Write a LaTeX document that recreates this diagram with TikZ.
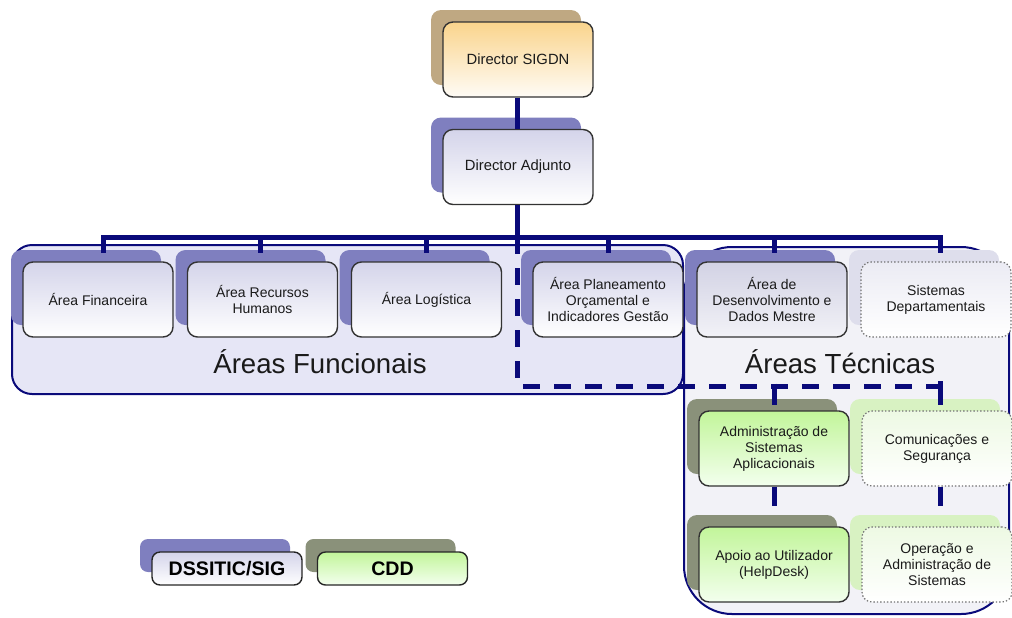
\documentclass[tikz,border=0pt]{standalone}
\usepackage{fontspec}
\setmainfont{Liberation Sans}
\usetikzlibrary{shadows}
\definecolor{navy}{HTML}{0A0A7A}
\definecolor{txt}{HTML}{1A1A1A}
\definecolor{funcfill}{HTML}{E6E6F6}
\definecolor{tecfill}{HTML}{F2F2F7}
\definecolor{lavtop}{HTML}{D4D4EA}
\definecolor{lavshadow}{HTML}{7F7FBF}
\definecolor{orgtop}{HTML}{FAD48C}
\definecolor{tanshadow}{HTML}{BFA882}
\definecolor{grntop}{HTML}{C2F59A}
\definecolor{grnbot}{HTML}{F3FFEE}
\definecolor{grnshadow}{HTML}{8A917A}
\definecolor{ltgrnshadow}{HTML}{D8F2C2}
\definecolor{ltlavshadow}{HTML}{DEDEEC}
\definecolor{desentop}{HTML}{D2D2E4}
\tikzset{
  box/.style={draw=black!80, line width=0.7pt, rounded corners=5pt,
    minimum width=75pt, minimum height=37.5pt, align=center, inner sep=1pt,
    text=txt, font=\fontsize{7}{8}\selectfont,
    general shadow={fill=#1, shadow xshift=-6pt, shadow yshift=6pt}},
  lavbox/.style={box=lavshadow, top color=lavtop, bottom color=white},
  grnbox/.style={box=grnshadow, top color=grntop, bottom color=grnbot},
  dotbox/.style={box=#1, draw=black!55, densely dotted, line width=0.6pt},
  container/.style={draw=navy, line width=1pt},
  conn/.style={draw=navy, line width=2.5pt},
  dconn/.style={draw=navy, line width=2.5pt, dash pattern=on 8.5pt off 7pt},
  biglabel/.style={text=txt, font=\fontsize{13.8}{16}\selectfont, inner sep=0pt},
  legend/.style={draw=black!85, line width=0.7pt, rounded corners=4pt,
    minimum width=75pt, minimum height=16.5pt, inner sep=0pt,
    font=\bfseries\fontsize{9.8}{11}\selectfont, text=black,
    general shadow={fill=#1, shadow xshift=-6pt, shadow yshift=6.5pt}}
}
\begin{document}
\begin{tikzpicture}[x=0.5pt,y=-0.5pt]
\useasboundingbox (0,0) rectangle (1012,617);
% containers
\node[container, fill=tecfill, rounded corners=24pt, minimum width=162.5pt, minimum height=183.5pt] (tec) at (846.5,430.5) {};
\node[container, fill=funcfill, rounded corners=10pt, minimum width=335.5pt, minimum height=74.5pt] (func) at (347.5,319.5) {};
\node[biglabel] (funclab) at (320,362) {Áreas Funcionais};
\node[biglabel] (teclab) at (840,362) {Áreas Técnicas};
% top
\node[box=tanshadow, top color=orgtop, bottom color=orgtop!8, font=\fontsize{7.4}{8.5}\selectfont] (sigdn) at (518,59.5) {Director SIGDN};
\node[lavbox, font=\fontsize{7.4}{8.5}\selectfont] (adj) at (518,167) {Director Adjunto};
% row 1
\node[lavbox] (fin) at (98,299.5) {Área Financeira};
\node[lavbox] (rh) at (262.5,299.5) {Área Recursos\\Humanos};
\node[lavbox] (log) at (426.5,299.5) {Área Logística};
\node[lavbox] (plan) at (608,299.5) {Área Planeamento\\Orçamental e\\Indicadores Gestão};
\node[box=lavshadow, top color=desentop, bottom color=tecfill] (des) at (772,299.5) {Área de\\Desenvolvimento e\\Dados Mestre};
\node[dotbox=ltlavshadow, top color=ltlavshadow!60, bottom color=white] (sis) at (936,299.5) {Sistemas\\Departamentais};
% green
\node[grnbox] (adm) at (774,448.5) {Administração de\\Sistemas\\Aplicacionais};
\node[dotbox=ltgrnshadow, top color=ltgrnshadow!45, bottom color=white] (com) at (937,448.5) {Comunicações e\\Segurança};
\node[grnbox] (apo) at (774,564.5) {Apoio ao Utilizador\\(HelpDesk)};
\node[dotbox=ltgrnshadow, top color=ltgrnshadow!45, bottom color=white] (ope) at (937,564.5) {Operação e\\Administração de\\Sistemas};
% legend
\node[legend=lavshadow, top color=lavtop, bottom color=white] (ldss) at (227,568.5) {DSSITIC/SIG};
\node[legend=grnshadow, top color=grntop, bottom color=grnbot] (lcdd) at (392.5,568.5) {CDD};
% connectors
\coordinate (bus) at (517,237);
\coordinate (s1) at (103,253);
\coordinate (s2) at (260,253);
\coordinate (s3) at (426,253);
\coordinate (s4) at (608,253);
\coordinate (s5) at (774,253);
\coordinate (s6) at (940,253);
\coordinate (dc) at (517,386);
\coordinate (d1) at (774,405);
\coordinate (d2) at (940,405);
\coordinate (g1) at (774,506);
\coordinate (g2) at (940,506);
\draw[conn] (sigdn.south -| bus) -- (adj.north -| bus);
\draw[conn] (adj.south -| bus) -- (bus);
\draw[conn] (s1) |- (bus) -| (s6);
\foreach \s in {s2,s3,s4,s5} \draw[conn] (bus -| \s) -- (\s);
\draw[dconn] (bus) -- (dc) -- (dc -| d2);
\draw[conn] (dc -| d1) ++(0,-2.5) -- (d1);
\draw[conn] (dc -| d2) ++(-2.5,-2.5) -| (d2);
\draw[conn] (adm.south) -- (g1);
\draw[conn] (com.south -| g2) -- (g2);
\end{tikzpicture}
\end{document}
